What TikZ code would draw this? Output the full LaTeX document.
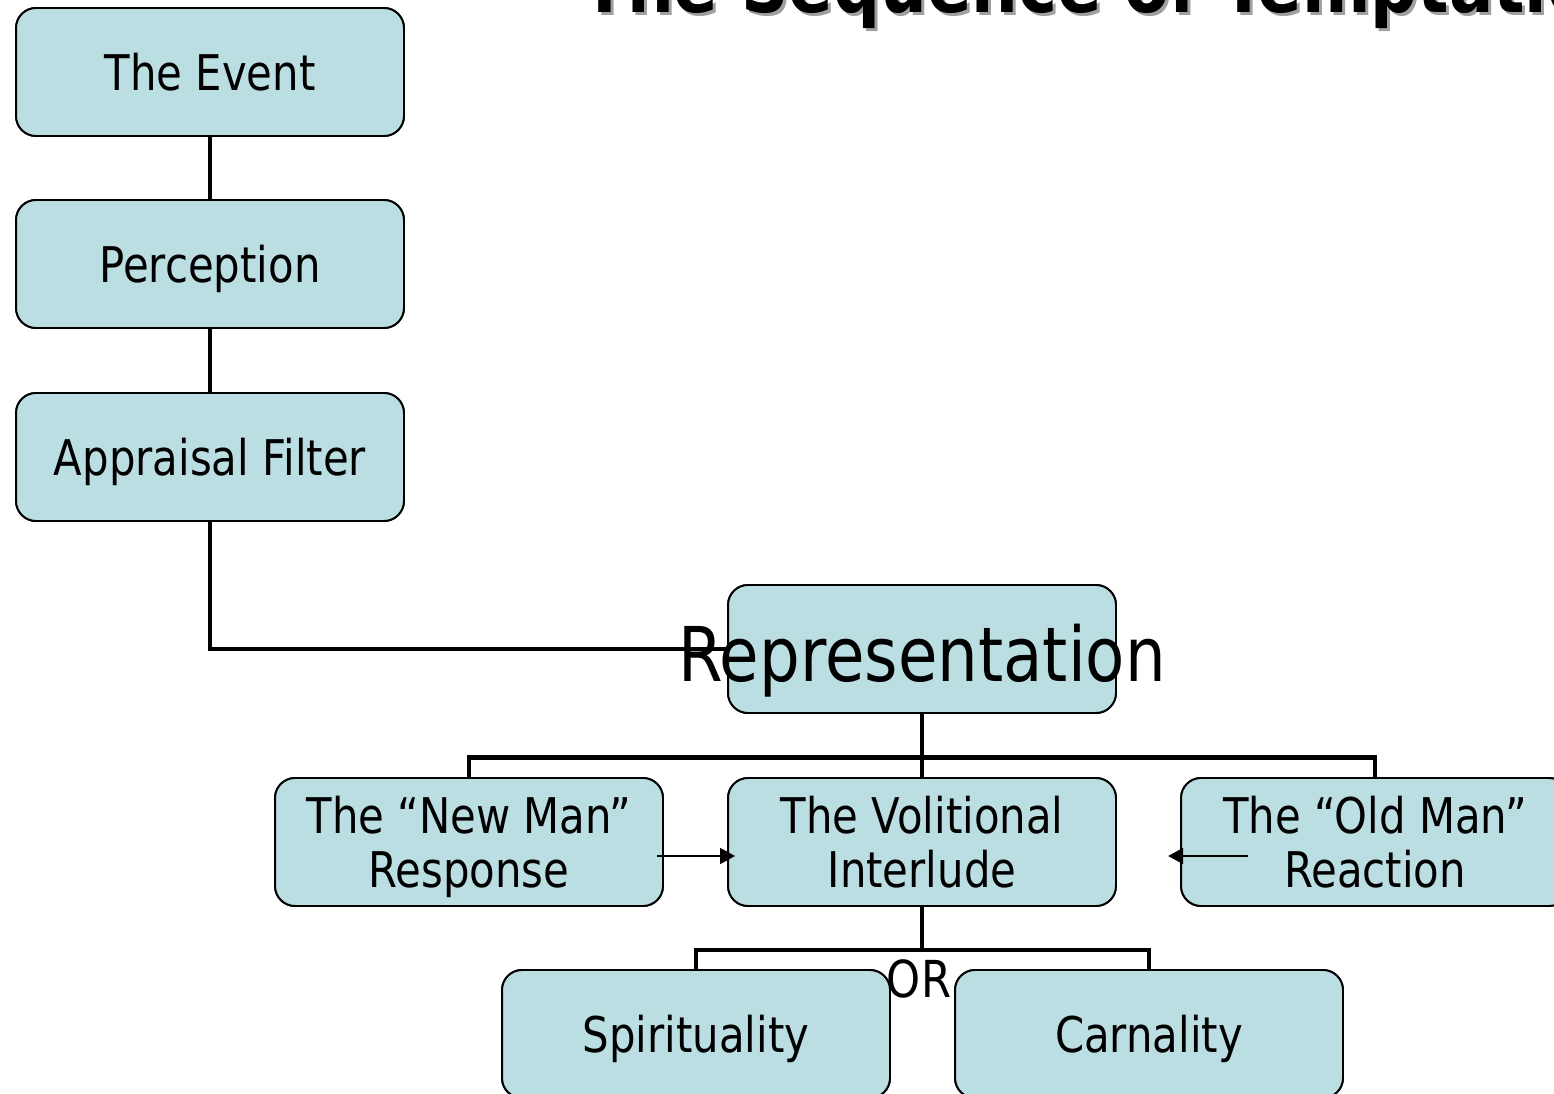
\documentclass[tikz,border=0pt]{standalone}
\usepackage{fontspec}
\setmainfont[FakeStretch=0.85]{DejaVu Sans}
\usetikzlibrary{arrows.meta,calc}
\definecolor{boxfill}{HTML}{BBDEE3}
\definecolor{shadowgray}{HTML}{A0A0A0}
\tikzset{
  box/.style={draw=black, line width=1.1pt, fill=boxfill, rounded corners=0.4cm,
    minimum width=7.76cm, minimum height=2.56cm, inner sep=0pt, align=center,
    text depth=0pt, font=\fontsize{28}{30.5}\selectfont},
  conn/.style={line width=2.8pt},
  thinarrow/.style={line width=0.8pt, -{Triangle[length=0.3cm,width=0.32cm]}},
}
\begin{document}
\begin{tikzpicture}[x=0.02cm,y=-0.02cm]
\clip (0,0) rectangle (1554,1094);
\fill[white] (0,0) rectangle (1554,1094);
% title
\node[anchor=base west, inner sep=0pt, text=shadowgray, font=\fontsize{44}{48}\selectfont\bfseries] (titleshadow) at (585,16) {The Sequence of Temptation};
\node[anchor=base west, inner sep=0pt, font=\fontsize{44}{48}\selectfont\bfseries] (title) at (582,13) {The Sequence of Temptation};
% boxes
\node[box] (event) at (210,72) {The Event};
\node[box] (perc) at (210,264) {Perception};
\node[box] (appr) at (210,457) {Appraisal Filter};
\node[box] (rep) at (922,649) {};
\node[box] (newman) at (469,842) {The “New Man”\\Response};
\node[box] (vol) at (922,842) {The Volitional\\Interlude};
\node[box] (oldman) at (1375,842) {The “Old Man”\\Reaction};
\node[box] (spir) at (696,1034) {Spirituality};
\node[box] (carn) at (1149,1034) {Carnality};
% connectors
\draw[conn] (event.south) -- (perc.north);
\draw[conn] (perc.south) -- (appr.north);
\draw[conn] (appr.south) |- (rep.west);
\coordinate (bus1) at ($(rep.south)+(0,44)$);
\draw[conn] (rep.south) -- (vol.north);
\draw[conn] (newman.north) -- (newman.north |- bus1) -- (oldman.north |- bus1) -- (oldman.north);
\coordinate (bus2) at ($(vol.south)+(0,43)$);
\draw[conn] (vol.south) -- (bus2);
\draw[conn] (spir.north) -- (spir.north |- bus2) -- (carn.north |- bus2) -- (carn.north);
% redraw boxes on top of connector ends
\node[box] at (event) {The Event};
\node[box] at (perc) {Perception};
\node[box] at (appr) {Appraisal Filter};
\node[box] at (rep) {};
\node[box] at (newman) {The “New Man”\\Response};
\node[box] at (vol) {The Volitional\\Interlude};
\node[box] at (oldman) {The “Old Man”\\Reaction};
\node[box] at (spir) {Spirituality};
\node[box] at (carn) {Carnality};
% big label
\node[inner sep=0pt, text depth=0pt, font=\fontsize{43}{46}\selectfont] (reptext) at ($(rep)+(0,4)$) {Representation};
% arrows
\coordinate (a1s) at ($(newman.east)+(-7,14)$);
\coordinate (a1e) at ($(vol.west)+(8,14)$);
\draw[thinarrow] (a1s) -- (a1e);
\coordinate (a2s) at ($(oldman.west)+(68,14)$);
\coordinate (a2e) at ($(oldman.west)+(-12,14)$);
\draw[thinarrow] (a2s) -- (a2e);
% OR
\node[inner sep=0pt, text depth=0pt, font=\fontsize{29}{31}\selectfont] (or) at (919,979) {OR};
\end{tikzpicture}
\end{document}
